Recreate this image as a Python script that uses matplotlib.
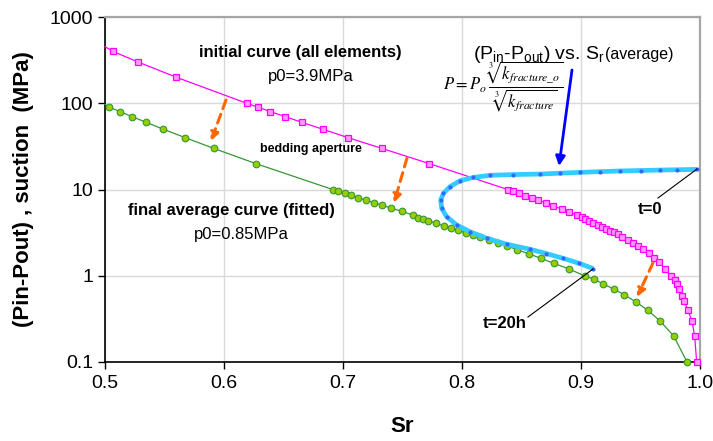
import matplotlib
matplotlib.use("Agg")
import matplotlib.pyplot as plt

plt.rcParams['font.family'] = ['Liberation Sans', 'DejaVu Sans']

# ---------------- data ----------------
# initial curve (all elements), p0 = 3.9 MPa
pink_start_sr, pink_start_p = 0.5, 453
pink_sr = [0.5065, 0.528, 0.560, 0.619, 0.6286, 0.639, 0.6515, 0.6655, 0.683, 0.704,
           0.7325, 0.7723, 0.8384, 0.8431, 0.8479, 0.8532, 0.8588, 0.8641, 0.8703, 0.8765,
           0.8838, 0.8902, 0.8969, 0.9006, 0.9036, 0.9070, 0.9103, 0.9140, 0.9174, 0.9207,
           0.9241, 0.9275, 0.9314, 0.9347, 0.9395, 0.9437, 0.9482, 0.9524, 0.9569, 0.9616,
           0.9658, 0.9703, 0.9756, 0.9787, 0.9807, 0.9826, 0.9849, 0.9868, 0.9897, 0.9933,
           0.9955, 0.9972]
pink_p = [400, 300, 200, 100, 90, 80, 70, 60, 50, 40,
          30, 20, 10, 9.5, 9.0, 8.5, 8.0, 7.5, 7.0, 6.5,
          5.89, 5.44, 5.11, 4.77, 4.55, 4.28, 4.09, 3.88, 3.67, 3.48,
          3.33, 3.19, 3.02, 2.84, 2.6, 2.4, 2.19, 2.02, 1.82, 1.62,
          1.43, 1.21, 0.99, 0.89, 0.80, 0.70, 0.59, 0.51, 0.40, 0.30,
          0.20, 0.10]

# final average curve (fitted), p0 = 0.85 MPa
green_start_sr, green_start_p = 0.5, 97
green_sr = [0.5036, 0.5126, 0.5227, 0.5347, 0.549, 0.5672, 0.5913, 0.6266, 0.6913, 0.6958,
            0.7014, 0.7067, 0.7123, 0.719, 0.7258, 0.7328, 0.7406, 0.7493, 0.7586, 0.7633,
            0.7675, 0.7717, 0.7779, 0.7846, 0.7908, 0.7966, 0.8031, 0.8089, 0.8154, 0.8224,
            0.83, 0.8378, 0.8465, 0.856, 0.8664, 0.8773, 0.8899, 0.9034, 0.9112, 0.9188,
            0.9277, 0.9364, 0.9459, 0.956, 0.9664, 0.9779, 0.9891]
green_p = [90, 80, 70, 60, 50, 40, 30, 20, 10, 9.5,
           9.0, 8.6, 8.0, 7.6, 7.0, 6.6, 6.05, 5.6, 5.06, 4.7,
           4.5, 4.35, 4.05, 3.8, 3.58, 3.37, 3.13, 2.97, 2.79, 2.6,
           2.4, 2.21, 2.0, 1.8, 1.59, 1.39, 1.2, 0.99, 0.91, 0.8,
           0.7, 0.6, 0.5, 0.4, 0.3, 0.2, 0.1]

# (Pin-Pout) vs Sr(average), t=0 -> t=20h
blue_sr = [0.9972, 0.981, 0.9664, 0.950, 0.9328, 0.916, 0.8992, 0.882, 0.8655, 0.8431,
           0.8235, 0.8095, 0.7983, 0.7899, 0.7843, 0.7821, 0.7829, 0.7871, 0.7955, 0.8067,
           0.8208, 0.8376, 0.8571, 0.871, 0.8851, 0.898, 0.9103]
blue_p = [17.1, 16.95, 16.8, 16.6, 16.4, 16.1, 15.8, 15.45, 15.1, 14.9,
          14.6, 13.8, 12.6, 10.8, 9.0, 7.55, 6.05, 4.84, 3.88, 3.24,
          2.72, 2.32, 2.03, 1.81, 1.59, 1.40, 1.21]

x_ticks = [0.5, 0.6, 0.7, 0.8, 0.9, 1.0]
x_ticklabels = ['0.5', '0.6', '0.7', '0.8', '0.9', '1.0']
y_ticks = [0.1, 1, 10, 100, 1000]
y_ticklabels = ['0.1', '1', '10', '100', '1000']

# ---------------- figure ----------------
W, H = 713, 441
fig = plt.figure(figsize=(W / 100, H / 100), dpi=100)
L, R, T, B = 105, 700, 17, 362
ax = fig.add_axes([L / W, 1 - B / H, (R - L) / W, (B - T) / H])


def px(x, y):
    """pixel position in the picture -> axes fraction"""
    return ((x - L) / (R - L), (B - y) / (B - T))


ax.set_yscale('log')
ax.set_xlim(0.5, 1.0)
ax.set_ylim(0.1, 1000)
ax.set_xticks(x_ticks)
ax.set_xticklabels(x_ticklabels)
ax.set_yticks(y_ticks)
ax.set_yticklabels(y_ticklabels)
ax.minorticks_off()
ax.tick_params(axis='both', direction='out', length=5, width=1, labelsize=14, colors='black')
ax.tick_params(axis='x', pad=4)
ax.grid(True, color='#d9d9d9', linewidth=1)
ax.set_axisbelow(True)

for s in ['left', 'bottom']:
    ax.spines[s].set_color('black')
    ax.spines[s].set_linewidth(1.2)
for s in ['top', 'right']:
    ax.spines[s].set_color('#a6a6a6')
    ax.spines[s].set_linewidth(1.6)

# initial curve
ax.plot([pink_start_sr] + pink_sr, [pink_start_p] + pink_p, color='#FF00FF', lw=0.9,
        marker='s', markersize=4.8, markerfacecolor='#FF99FF', markeredgecolor='#FF00FF',
        markeredgewidth=0.9, markevery=list(range(1, len(pink_sr) + 1)), zorder=3, clip_on=False)

# final curve
ax.plot([green_start_sr] + green_sr, [green_start_p] + green_p, color='#339933', lw=0.9,
        marker='o', markersize=4.8, markerfacecolor='#99CC00', markeredgecolor='#339933',
        markeredgewidth=0.8, markevery=list(range(1, len(green_sr) + 1)), zorder=3, clip_on=False)

# blue curve
ax.plot(blue_sr, blue_p, color='#33CCFF', lw=3.4, solid_capstyle='butt', zorder=4)
ax.plot(blue_sr, blue_p, linestyle='none', marker='o', markersize=2.0,
        markerfacecolor='#3366FF', markeredgecolor='#3366FF', zorder=5)

# ---------------- texts ----------------
ax.text(*px(300, 52), 'initial curve (all elements)', transform=ax.transAxes,
        ha='center', va='center', fontsize=12, fontweight='bold')
ax.text(*px(311, 76), 'p0=3.9MPa', transform=ax.transAxes,
        ha='center', va='center', fontsize=12)
ax.text(*px(311, 149), 'bedding aperture', transform=ax.transAxes,
        ha='center', va='center', fontsize=9, fontweight='bold')
ax.text(*px(231, 211), 'final average curve (fitted)', transform=ax.transAxes,
        ha='center', va='center', fontsize=12, fontweight='bold')
ax.text(*px(241, 235), 'p0=0.85MPa', transform=ax.transAxes,
        ha='center', va='center', fontsize=12)
ax.text(*px(650, 210), 't=0', transform=ax.transAxes,
        ha='center', va='center', fontsize=12, fontweight='bold')
ax.text(*px(505, 323), 't=20h', transform=ax.transAxes,
        ha='center', va='center', fontsize=12, fontweight='bold')

title = ax.text(*px(473, 59), r'(P$_{\mathregular{in}}$-P$_{\mathregular{out}}$) vs. S$_{\mathregular{r}}$',
                transform=ax.transAxes, ha='left', va='baseline', fontsize=14)
ax.annotate('(average)', xy=(1.0, 0.0), xycoords=title, xytext=(0, 2),
            textcoords='offset points', ha='left', va='bottom', fontsize=11.5)

ax.text(*px(503, 87),
        r'$P = P_o\,\dfrac{\sqrt[3]{k_{fracture\_o}}}{\sqrt[3]{k_{fracture}}}$',
        transform=ax.transAxes, ha='center', va='center', fontsize=12, math_fontfamily='stix')

# ---------------- arrows and leader lines ----------------
ax.annotate('', xy=px(559, 166), xytext=px(572, 70), xycoords='axes fraction',
            textcoords='axes fraction',
            arrowprops=dict(arrowstyle='-|>', color='#0000FF', lw=2, mutation_scale=14,
                            shrinkA=0, shrinkB=0))
for (x0, y0, x1, y1) in [(226, 100, 211, 141), (407, 158, 394, 203), (653, 263, 637, 297)]:
    ax.annotate('', xy=px(x1, y1), xytext=px(x0, y0), xycoords='axes fraction',
                textcoords='axes fraction',
                arrowprops=dict(arrowstyle='-|>', color='#FF6600', lw=2.2, mutation_scale=12,
                                linestyle=(0, (3, 2)), shrinkA=0, shrinkB=0))
ax.plot([px(658, 198)[0], px(697, 169)[0]], [px(658, 198)[1], px(697, 169)[1]],
        color='black', lw=0.8, transform=ax.transAxes, zorder=6)
ax.plot([px(528, 317)[0], px(593, 269)[0]], [px(528, 317)[1], px(593, 269)[1]],
        color='black', lw=0.8, transform=ax.transAxes, zorder=6)

# ---------------- axis labels ----------------
ax.set_ylabel('(Pin-Pout) , suction  (MPa)', fontsize=16, fontweight='bold')
ax.yaxis.set_label_coords(px(34, 0)[0], 0.5)
ax.set_xlabel('Sr', fontsize=16, fontweight='bold')
ax.xaxis.set_label_coords(0.5, px(0, 416)[1])

fig.savefig('out.png', dpi=100)
